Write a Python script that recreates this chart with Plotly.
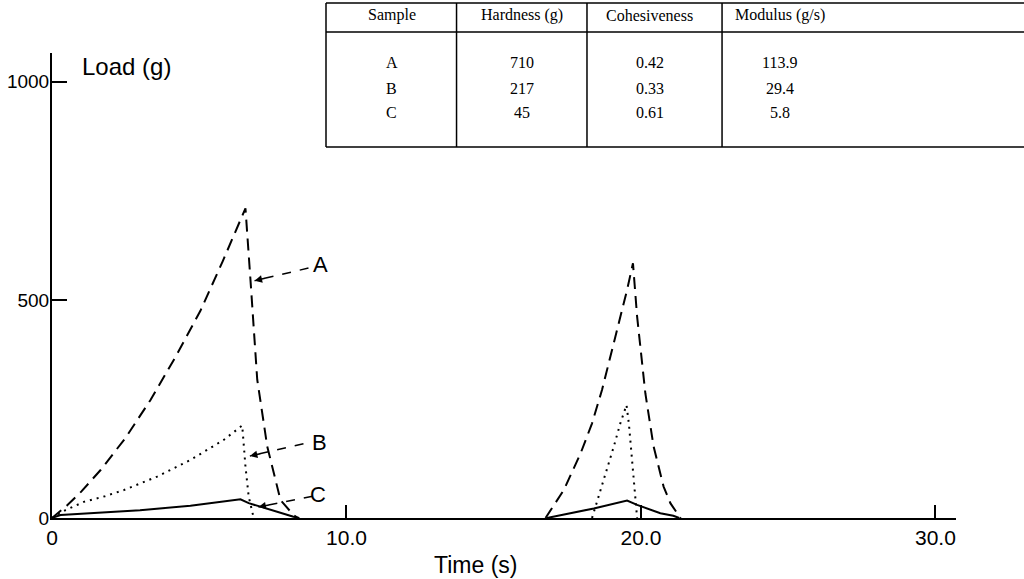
import plotly.graph_objects as go

# ---- data ----
A_t = [0, 0.5, 1.0, 1.65, 2.5, 3.34, 4.2, 5.04, 5.8, 6.57, 6.74, 6.97, 7.31, 7.76, 8.2, 8.35,
       None,
       16.76, 17.38, 17.95, 18.34, 18.68, 19.19, 19.53, 19.73, 19.87, 20.15, 20.43, 20.77, 21.0, 21.23, 21.35]
A_y = [0, 28, 61, 110, 184, 270, 370, 475, 589, 710, 546, 317, 164, 41, 7, 0,
       None,
       0, 64, 148, 217, 294, 431, 523, 584, 462, 286, 164, 72, 34, 11, 0]

B_t = [0, 0.46, 1.08, 1.8, 2.44, 3.57, 4.7, 5.83, 6.46, 6.57, 6.68, 6.85,
       None,
       18.34, 18.74, 19.08, 19.3, 19.51, 19.59, 19.7, 19.81, 19.87]
B_y = [0, 18, 37, 50, 64, 95, 133, 179, 212, 118, 49, 0,
       None,
       0, 87, 164, 217, 259, 217, 125, 49, 0]

C_t = [0, 0.29, 2.99, 4.7, 6.4, 6.68, 7.08, 7.76, 8.2, 8.4,
       None,
       16.81, 18.4, 19.53, 19.87, 20.66, 21.1, 21.3]
C_y = [0, 7, 18, 28, 43, 34, 26, 11, 3, 0,
       None,
       0, 22, 40, 30, 11, 5, 0]

x_tickvals = [0, 10, 20, 30]
x_ticktext = ["0", "10.0", "20.0", "30.0"]
y_tickvals = [0, 500, 1000]
y_ticktext = ["0", "500", "1000"]

header = ["Sample", "Hardness (g)", "Cohesiveness", "Modulus (g/s)"]
sample = ["A", "B", "C"]
hardness = ["710", "217", "45"]
cohesiveness = ["0.42", "0.33", "0.61"]
modulus = ["113.9", "29.4", "5.8"]

# curve labels: (text, label x, label y, leader start x, y, tip x, y)
labels = [
    ("A", 9.12, 581, 8.71, 573, 6.88, 544),
    ("B", 9.07, 173, 8.54, 170, 6.72, 142),
    ("C", 9.05, 53, 8.85, 50, 7.01, 25),
]

AXFONT = "Liberation Sans, Arial, sans-serif"
SERIF = "Liberation Serif, Times New Roman, serif"

fig = go.Figure()
fig.add_trace(go.Scatter(x=A_t, y=A_y, mode="lines", name="A",
                         line=dict(color="black", width=2, dash="12px,7px")))
fig.add_trace(go.Scatter(x=B_t, y=B_y, mode="lines", name="B",
                         line=dict(color="black", width=2, dash="2px,5px")))
fig.add_trace(go.Scatter(x=C_t, y=C_y, mode="lines", name="C",
                         line=dict(color="black", width=2)))

annotations = []
shapes = []
for txt, lx, ly, sx, sy, tx, ty in labels:
    annotations.append(dict(x=lx, y=ly, xref="x", yref="y", text=txt, showarrow=False,
                            xanchor="center", yanchor="middle",
                            font=dict(family=AXFONT, size=22, color="black")))
    shapes.append(dict(type="line", xref="x", yref="y", x0=sx, y0=sy, x1=tx, y1=ty,
                       line=dict(color="black", width=1.5, dash="9px,9px")))
    dx = (sx - tx) * 0.22
    dy = (sy - ty) * 0.22
    annotations.append(dict(x=tx, y=ty, xref="x", yref="y", ax=tx + dx, ay=ty + dy,
                            axref="x", ayref="y", text="", showarrow=True,
                            arrowhead=2, arrowsize=1, arrowwidth=1.5, arrowcolor="black"))

# axis titles
annotations.append(dict(x=0.031, y=0.970, xref="paper", yref="paper", text="Load (g)",
                        xanchor="left", yanchor="middle", showarrow=False,
                        font=dict(family=AXFONT, size=24, color="black")))
annotations.append(dict(x=0.468, y=-0.101, xref="paper", yref="paper", text="Time (s)",
                        xanchor="center", yanchor="middle", showarrow=False,
                        font=dict(family=AXFONT, size=23, color="black")))

# table (paper coordinates)
tx0, tx1 = 0.3031, 1.09
ty_top, ty_head, ty_bot = 1.1075, 1.0452, 0.7978
col_lines = [0.4475, 0.5918, 0.7412]
col_centers = [0.3761, 0.5199, 0.6615, 0.8053]
row_y = [0.9806, 0.9247, 0.8710]
head_y = 1.0817
tl = dict(color="black", width=1.5)
shapes.append(dict(type="line", xref="paper", yref="paper", x0=tx0, x1=tx1, y0=ty_top, y1=ty_top, line=tl))
shapes.append(dict(type="line", xref="paper", yref="paper", x0=tx0, x1=tx1, y0=ty_head, y1=ty_head, line=tl))
shapes.append(dict(type="line", xref="paper", yref="paper", x0=tx0, x1=tx1, y0=ty_bot, y1=ty_bot, line=tl))
shapes.append(dict(type="line", xref="paper", yref="paper", x0=tx0, x1=tx0, y0=ty_bot, y1=ty_top, line=tl))
for cx in col_lines:
    shapes.append(dict(type="line", xref="paper", yref="paper", x0=cx, x1=cx, y0=ty_bot, y1=ty_top, line=tl))

for cx, h in zip(col_centers, header):
    annotations.append(dict(x=cx, y=head_y, xref="paper", yref="paper", text=h, showarrow=False,
                            xanchor="center", yanchor="middle",
                            font=dict(family=SERIF, size=16, color="black")))
columns = [sample, hardness, cohesiveness, modulus]
for cx, col in zip(col_centers, columns):
    for ry, v in zip(row_y, col):
        annotations.append(dict(x=cx, y=ry, xref="paper", yref="paper", text=v, showarrow=False,
                                xanchor="center", yanchor="middle",
                                font=dict(family=SERIF, size=16, color="black")))

fig.update_layout(
    width=1024, height=579,
    margin=dict(l=52, r=68, t=53, b=61),
    paper_bgcolor="white", plot_bgcolor="white",
    showlegend=False,
    xaxis=dict(range=[0, 30.7], tickvals=x_tickvals, ticktext=x_ticktext,
               ticks="inside", ticklen=13, tickwidth=1.5, tickcolor="black",
               showline=True, linecolor="black", linewidth=2,
               showgrid=False, zeroline=False, automargin=False,
               tickfont=dict(family=AXFONT, size=21, color="black")),
    yaxis=dict(range=[0, 1066], tickvals=y_tickvals, ticktext=y_ticktext,
               ticks="inside", ticklen=15, tickwidth=1.5, tickcolor="black",
               showline=True, linecolor="black", linewidth=2,
               showgrid=False, zeroline=False, automargin=False,
               ticklabelstandoff=-3,
               tickfont=dict(family=AXFONT, size=19, color="black")),
    annotations=annotations,
    shapes=shapes,
)

fig.write_html("out.html")
